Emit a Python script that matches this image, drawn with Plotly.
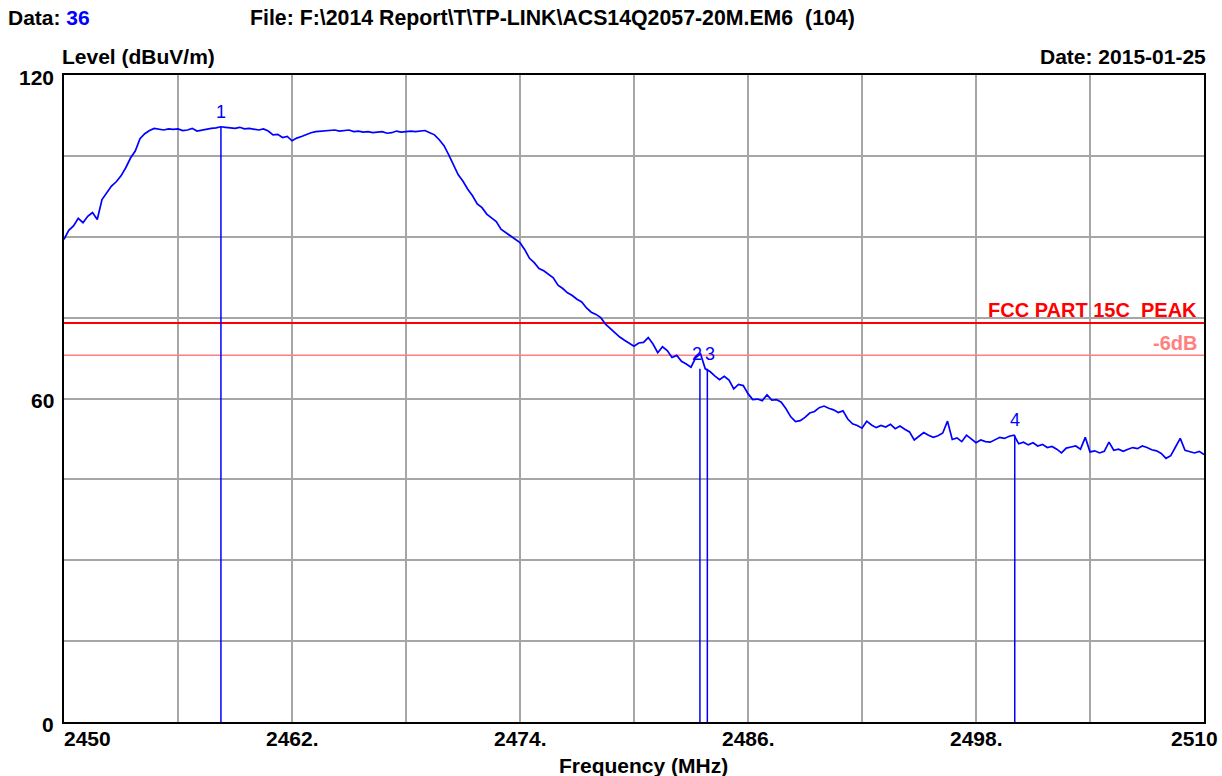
import numpy as np
import plotly.graph_objects as go

# Sweep: 2450 - 2510 MHz, one reading every 0.25 MHz (dBuV/m)
freq_start, freq_stop, freq_step = 2450.0, 2510.0, 0.25
level = [
    89.5, 91.2, 92.0, 93.4, 92.6, 93.8, 94.5, 93.2,
    96.9, 98.1, 99.4, 100.2, 101.3, 102.8, 104.6, 105.9,
    108.2, 109.1, 109.7, 110.1, 109.9, 109.8, 110.0, 109.9,
    110.0, 109.7, 109.8, 110.1, 109.6, 109.8, 110.0, 110.1,
    110.2, 110.4, 110.3, 110.2, 110.1, 110.3, 110.0, 110.1,
    109.9, 109.8, 110.0, 109.6, 108.9, 109.0, 108.4, 108.6,
    107.8, 108.3, 108.6, 109.0, 109.3, 109.5, 109.6, 109.7,
    109.7, 109.8, 109.6, 109.7, 109.8, 109.5, 109.6, 109.4,
    109.5, 109.3, 109.4, 109.5, 109.2, 109.3, 109.6, 109.4,
    109.5, 109.6, 109.5, 109.6, 109.7, 109.3, 108.9, 108.0,
    106.9, 105.2, 103.4, 101.5, 100.3, 98.8, 97.6, 96.1,
    95.4, 94.2, 93.5, 92.8, 91.4, 90.8, 90.1, 89.6,
    88.9, 87.6, 86.0, 85.2, 84.1, 83.7, 83.0, 82.4,
    81.0, 80.4, 79.6, 79.1, 78.4, 77.9, 76.8, 76.0,
    75.6, 75.0, 73.8, 73.0, 72.1, 71.4, 70.8, 70.3,
    69.7, 70.3, 70.4, 71.3, 70.1, 68.5, 69.6, 68.9,
    67.6, 68.0, 66.9, 66.4, 65.8, 67.6, 68.3, 65.5,
    65.0, 64.2, 63.5, 64.1, 63.4, 61.8, 62.6, 62.4,
    60.9, 59.8, 59.9, 59.6, 60.7, 59.7, 59.8, 59.3,
    58.1, 56.6, 55.7, 55.9, 56.5, 57.3, 57.6, 58.3,
    58.6, 58.2, 57.9, 57.4, 57.7, 56.2, 55.3, 55.0,
    54.5, 55.8, 55.1, 54.6, 55.0, 54.7, 55.2, 54.4,
    54.9, 54.3, 53.8, 52.3, 53.0, 53.7, 53.2, 52.8,
    53.1, 53.6, 55.8, 52.4, 52.7, 52.0, 53.2, 52.5,
    51.8, 52.3, 52.0, 51.9, 52.4, 52.8, 52.6, 53.0,
    53.2, 51.6, 51.9, 51.4, 51.8, 51.2, 51.5, 50.9,
    51.1, 50.6, 49.9, 50.8, 51.0, 51.2, 50.6, 52.8,
    50.1, 50.3, 49.9, 50.2, 51.9, 50.4, 50.6, 50.2,
    50.6, 50.9, 50.7, 51.2, 50.9, 50.5, 50.3, 49.8,
    48.9, 49.4, 51.0, 52.6, 50.4, 50.1, 49.9, 50.2,
    49.6,
]
freq = freq_start + freq_step * np.arange(len(level))

# Markers
marker_ids = ["1", "2", "3", "4"]
marker_freq = [2458.26, 2483.47, 2483.86, 2500.04]
marker_level = [110.4, 65.5, 65.5, 53.2]
# horizontal nudge (px) so neighbouring marker numbers sit side by side
marker_label_shift = [0, -3, 3, 0]

# Limit lines
limit_peak = 74.0
limit_margin = 68.0

x_ticks = [2450, 2456, 2462, 2468, 2474, 2480, 2486, 2492, 2498, 2504, 2510]
x_tick_labels = {2450: "2450", 2462: "2462.", 2474: "2474.", 2486: "2486.", 2498: "2498.", 2510: "2510"}
y_ticks = [0, 15, 30, 45, 60, 75, 90, 105, 120]
y_tick_labels = {0: "0", 60: "60", 120: "120"}

FONT = "Liberation Sans, Arial, sans-serif"
BLUE = "#0000ff"
GRID = "#a6a6a6"
TXT = 21

fig = go.Figure()

# Limit lines
fig.add_trace(go.Scatter(x=[freq_start, freq_stop], y=[limit_margin] * 2, mode="lines",
                         line=dict(color="#ff8080", width=1.5), hoverinfo="skip"))
fig.add_trace(go.Scatter(x=[freq_start, freq_stop], y=[limit_peak] * 2, mode="lines",
                         line=dict(color="#ff0000", width=2), hoverinfo="skip"))

# Marker stems
for mf, ml in zip(marker_freq, marker_level):
    fig.add_trace(go.Scatter(x=[mf, mf], y=[0, ml], mode="lines",
                             line=dict(color=BLUE, width=1.5), hoverinfo="skip"))

# Spectrum trace
fig.add_trace(go.Scatter(x=freq, y=level, mode="lines",
                         line=dict(color=BLUE, width=1.7), hoverinfo="skip"))

annotations = []
# Marker numbers
for mid, mf, ml, sh in zip(marker_ids, marker_freq, marker_level, marker_label_shift):
    annotations.append(dict(x=mf, y=ml, xref="x", yref="y", text=mid, showarrow=False,
                            yanchor="bottom", yshift=3, xanchor="center", xshift=sh,
                            font=dict(family=FONT, size=18, color=BLUE)))

# X tick labels
for xv, t in x_tick_labels.items():
    anchor = "left" if xv == freq_start else ("right" if xv == freq_stop else "center")
    xs = -2 if xv == freq_start else (16 if xv == freq_stop else 0)
    annotations.append(dict(x=xv, y=-0.004, xref="x", yref="paper", text=t, showarrow=False,
                            xanchor=anchor, yanchor="top", xshift=xs,
                            font=dict(family=FONT, size=TXT, color="black", weight="bold")))
# Y tick labels
for yv, t in y_tick_labels.items():
    annotations.append(dict(x=0, y=yv, xref="paper", yref="y", text=t, showarrow=False,
                            xanchor="right", yanchor="middle", xshift=-8, yshift=-2,
                            font=dict(family=FONT, size=TXT, color="black", weight="bold")))


def px_to_paper(px, py):
    return (px - 64) / 1140.0, (722 - py) / 647.0


def txt(px, py, text, anchor="left", size=TXT, color="black", bold=True):
    xx, yy = px_to_paper(px, py)
    return dict(x=xx, y=yy, xref="paper", yref="paper", text=text, showarrow=False,
                xanchor=anchor, yanchor="middle",
                font=dict(family=FONT, size=size, color=color, weight="bold" if bold else "normal"))


annotations += [
    txt(6, 18, "Data: <span style='color:#0000ff'>36</span>"),
    txt(248, 18, "File: F:\\2014 Report\\T\\TP-LINK\\ACS14Q2057-20M.EM6  (104)", size=21.3),
    txt(60, 56, "Level (dBuV/m)"),
    txt(1208, 56, "Date: 2015-01-25", anchor="right"),
    txt(643, 766, "Frequency (MHz)", anchor="center"),
    txt(1199, 310, "FCC PART 15C  PEAK", anchor="right", size=20, color="#ff0000"),
    txt(1199, 343, "-6dB", anchor="right", size=20, color="#ff8080"),
]

fig.update_layout(
    width=1222, height=776,
    margin=dict(l=64, r=18, t=75, b=54),
    paper_bgcolor="white", plot_bgcolor="white",
    showlegend=False,
    annotations=annotations,
    xaxis=dict(range=[freq_start, freq_stop], tickvals=x_ticks, showticklabels=False,
               showgrid=True, gridcolor=GRID, gridwidth=2, zeroline=False,
               showline=True, linecolor="black", linewidth=2, mirror=True, ticks=""),
    yaxis=dict(range=[0, 120], tickvals=y_ticks, showticklabels=False,
               showgrid=True, gridcolor=GRID, gridwidth=2, zeroline=False,
               showline=True, linecolor="black", linewidth=2, mirror=True, ticks=""),
)

fig.write_html("out.html", config={"displayModeBar": False})
